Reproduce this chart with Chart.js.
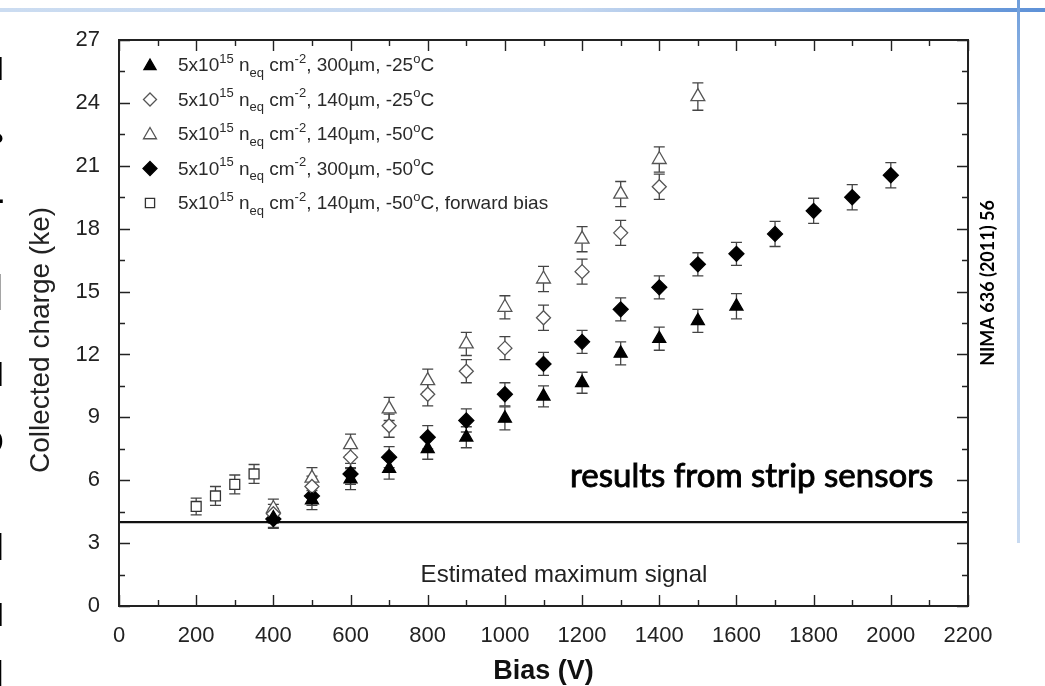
<!DOCTYPE html>
<html>
<head>
<meta charset="utf-8">
<script src="https://cdn.jsdelivr.net/npm/chart.js@4/dist/chart.umd.min.js"></script>
<style>
html,body{margin:0;padding:0;background:#fff;}
#wrap{position:relative;width:1045px;height:686px;overflow:hidden;background:#fff;}
#wrap canvas{position:absolute;left:0;top:0;}
.hline{position:absolute;left:0;top:8px;width:1045px;height:4px;background:linear-gradient(to right,#cbdcf1 0%,#c3d6ef 55%,#5d91d7 100%);}
.vline{position:absolute;left:1017px;top:0;width:3px;height:543px;background:linear-gradient(to bottom,#6f9edb 0%,#a9c5ea 25%,#c8daf1 100%);}
</style>
</head>
<body>
<div id="wrap">
  <canvas id="c" width="1045" height="686"></canvas>
  <div class="hline"></div>
  <div class="vline"></div>
</div>
<script>
// ---------------- data ----------------
const biasTri300   = [400, 500, 600, 700, 800, 900, 1000, 1100, 1200, 1300, 1400, 1500, 1600];
const chargeTri300 = [4.2, 5.05, 6.05, 6.55, 7.5, 8.05, 8.95, 10.0, 10.65, 12.05, 12.75, 13.6, 14.3];
const errTri300    = [0.45, 0.45, 0.5, 0.5, 0.5, 0.5, 0.55, 0.5, 0.5, 0.55, 0.55, 0.55, 0.6];

const biasDia140   = [400, 500, 600, 700, 800, 900, 1000, 1100, 1200, 1300, 1400];
const chargeDia140 = [4.4, 5.7, 7.1, 8.6, 10.1, 11.2, 12.3, 13.75, 15.95, 17.8, 20.0];
const errDia140    = [0.45, 0.5, 0.5, 0.55, 0.55, 0.55, 0.55, 0.6, 0.6, 0.6, 0.6];

const biasTri140   = [400, 500, 600, 700, 800, 900, 1000, 1100, 1200, 1300, 1400, 1500];
const chargeTri140 = [4.65, 6.1, 7.7, 9.4, 10.75, 12.5, 14.25, 15.6, 17.5, 19.65, 21.3, 24.3];
const errTri140    = [0.45, 0.5, 0.5, 0.55, 0.55, 0.55, 0.55, 0.6, 0.6, 0.6, 0.6, 0.65];

const biasDia300   = [400, 500, 600, 700, 800, 900, 1000, 1100, 1200, 1300, 1400, 1500, 1600, 1700, 1800, 1900, 2000];
const chargeDia300 = [4.15, 5.25, 6.3, 7.1, 8.05, 8.85, 10.1, 11.55, 12.6, 14.15, 15.2, 16.3, 16.8, 17.75, 18.85, 19.5, 20.55];
const errDia300    = [0.45, 0.45, 0.5, 0.5, 0.55, 0.55, 0.55, 0.55, 0.55, 0.55, 0.55, 0.55, 0.55, 0.6, 0.6, 0.6, 0.6];

const biasSqFwd    = [200, 250, 300, 350];
const chargeSqFwd  = [4.75, 5.25, 5.8, 6.3];
const errSqFwd     = [0.4, 0.45, 0.45, 0.45];

const maxSignalLevel = 4;
const maxSignalSpan  = [0, 2200];

const xRange = [0, 2200], xStep = 200, xMinorStep = 100;
const yRange = [0, 27],  yStep = 3,   yMinorStep = 1.5;

const legendThickness = ['300\u00B5m', '140\u00B5m', '140\u00B5m', '300\u00B5m', '140\u00B5m'];
const legendTemp      = ['-25', '-25', '-50', '-50', '-50'];
const legendSuffix    = ['', '', '', '', ', forward bias'];

const xTitle = 'Bias (V)';
const yTitle = 'Collected charge (ke)';
const signalNote = 'Estimated maximum signal';
const stripNote = 'results from strip sensors';
const refNote = 'NIMA 636 (2011) 56';

// ---------------- series definitions ----------------
const series = [
  {bias: biasTri300, charge: chargeTri300, err: errTri300, style: 'triangle', r: 7.5, fill: '#000', stroke: '#000'},
  {bias: biasDia140, charge: chargeDia140, err: errDia140, style: 'rectRot',  r: 7,   fill: '#fff', stroke: '#555'},
  {bias: biasTri140, charge: chargeTri140, err: errTri140, style: 'triangle', r: 8,   fill: '#fff', stroke: '#555'},
  {bias: biasDia300, charge: chargeDia300, err: errDia300, style: 'rectRot',  r: 7.5, fill: '#000', stroke: '#000'},
  {bias: biasSqFwd,  charge: chargeSqFwd,  err: errSqFwd,  style: 'rect',     r: 7,   fill: '#fff', stroke: '#333'}
];

function markerPath(ctx, style, x, y, r) {
  ctx.beginPath();
  if (style === 'triangle') {
    ctx.moveTo(x, y - r);
    ctx.lineTo(x + 0.866 * r, y + 0.5 * r);
    ctx.lineTo(x - 0.866 * r, y + 0.5 * r);
  } else if (style === 'rectRot') {
    ctx.moveTo(x, y - r); ctx.lineTo(x + r, y); ctx.lineTo(x, y + r); ctx.lineTo(x - r, y);
  } else {
    const h = r * Math.SQRT1_2;
    ctx.rect(x - h, y - h, 2 * h, 2 * h);
  }
  ctx.closePath();
}

const FONT = '"Liberation Sans", Arial, sans-serif';

function drawRich(ctx, x, y, parts) {
  let cx = x;
  parts.forEach(p => {
    const [t, kind] = p;
    if (kind === 'sup') { ctx.font = '13px ' + FONT; ctx.fillText(t, cx, y - 7); }
    else if (kind === 'sub') { ctx.font = '13px ' + FONT; ctx.fillText(t, cx, y + 7); }
    else { ctx.font = '19px ' + FONT; ctx.fillText(t, cx, y); }
    cx += ctx.measureText(t).width;
  });
}

const decor = {
  id: 'decor',
  beforeDatasetsDraw(chart) {
    const ctx = chart.ctx, xs = chart.scales.x, ys = chart.scales.y;
    ctx.save();
    ctx.strokeStyle = '#444';
    ctx.lineWidth = 1.3;
    series.forEach(s => {
      s.bias.forEach((b, i) => {
        const px = xs.getPixelForValue(b);
        const yTop = ys.getPixelForValue(s.charge[i] + s.err[i]);
        const yBot = ys.getPixelForValue(s.charge[i] - s.err[i]);
        ctx.beginPath();
        ctx.moveTo(px, yTop); ctx.lineTo(px, yBot);
        ctx.moveTo(px - 5.5, yTop); ctx.lineTo(px + 5.5, yTop);
        ctx.moveTo(px - 5.5, yBot); ctx.lineTo(px + 5.5, yBot);
        ctx.stroke();
      });
    });
    ctx.restore();
  },
  afterDraw(chart) {
    const ctx = chart.ctx, xs = chart.scales.x, ys = chart.scales.y;
    const a = chart.chartArea;
    ctx.save();
    // frame
    ctx.strokeStyle = '#222';
    ctx.lineWidth = 2;
    ctx.strokeRect(a.left, a.top, a.right - a.left, a.bottom - a.top);
    // inward ticks
    ctx.lineWidth = 1.4;
    ctx.beginPath();
    const nx = Math.round((xRange[1] - xRange[0]) / xMinorStep);
    for (let k = 0; k <= nx; k++) {
      const v = xRange[0] + k * xMinorStep;
      const px = Math.round(xs.getPixelForValue(v)) + 0.5;
      const len = (k % 2 === 0) ? 11 : 6;
      ctx.moveTo(px, a.bottom); ctx.lineTo(px, a.bottom - len);
      ctx.moveTo(px, a.top); ctx.lineTo(px, a.top + len);
    }
    const ny = Math.round((yRange[1] - yRange[0]) / yMinorStep);
    for (let k = 0; k <= ny; k++) {
      const v = yRange[0] + k * yMinorStep;
      const py = Math.round(ys.getPixelForValue(v)) + 0.5;
      const len = (k % 2 === 0) ? 11 : 6;
      ctx.moveTo(a.left, py); ctx.lineTo(a.left + len, py);
      ctx.moveTo(a.right, py); ctx.lineTo(a.right - len, py);
    }
    ctx.stroke();

    // y axis title
    ctx.save();
    ctx.translate(41, 340);
    ctx.rotate(-Math.PI / 2);
    ctx.fillStyle = '#222';
    ctx.font = '28px ' + FONT;
    ctx.textAlign = 'center';
    ctx.textBaseline = 'middle';
    ctx.fillText(yTitle, 0, 0);
    ctx.restore();

    // legend
    ctx.textBaseline = 'middle';
    ctx.textAlign = 'left';
    series.forEach((s, i) => {
      const ly = 65 + i * 34.5;
      ctx.fillStyle = s.fill; ctx.strokeStyle = s.stroke; ctx.lineWidth = 1.3;
      markerPath(ctx, s.style, 150, ly + (s.style === 'triangle' ? 1 : 0), s.r - 0.5);
      ctx.fill(); ctx.stroke();
      ctx.fillStyle = '#2a2a2a';
      drawRich(ctx, 178, ly + 1, [
        ['5x10', 'n'], ['15', 'sup'], [' n', 'n'], ['eq', 'sub'], [' cm', 'n'], ['-2', 'sup'],
        [', ' + legendThickness[i] + ', ' + legendTemp[i], 'n'], ['o', 'sup'], ['C' + legendSuffix[i], 'n']
      ]);
    });

    // annotations
    ctx.textBaseline = 'alphabetic';
    ctx.fillStyle = '#222';
    ctx.font = '24px ' + FONT;
    ctx.textAlign = 'center';
    ctx.fillText(signalNote, 564, 582);

    ctx.fillStyle = '#000';
    ctx.strokeStyle = '#000';
    ctx.lineWidth = 0.9;
    ctx.font = '33px Lato, sans-serif';
    ctx.textAlign = 'left';
    ctx.fillText(stripNote, 570, 487);
    ctx.strokeText(stripNote, 570, 487);

    ctx.save();
    ctx.translate(988, 283);
    ctx.rotate(-Math.PI / 2);
    ctx.font = 'bold 18px Lato, sans-serif';
    ctx.textAlign = 'center';
    ctx.textBaseline = 'middle';
    ctx.fillText(refNote, 0, 0);
    ctx.restore();

    // cut-off slide text at the left edge
    ctx.fillStyle = '#000';
    ctx.textAlign = 'right';
    ctx.textBaseline = 'alphabetic';
    const frags = [['l', 32, 80], ['?', 28, 152], ['-', 30, 209], ['l', 50, 310], ['l', 34, 386], ['o', 42, 453], ['l', 37, 560], ['l', 32, 626], ['l', 40, 690]];
    frags.forEach(f => {
      ctx.font = 'bold ' + f[1] + 'px ' + FONT;
      ctx.fillText(f[0], 4, f[2]);
    });
    ctx.restore();
  }
};

const datasets = series.map((s, i) => ({
  label: 'series' + i,
  data: s.bias.map((b, j) => ({x: b, y: s.charge[j]})),
  pointStyle: s.style,
  pointRadius: s.r,
  pointHoverRadius: s.r,
  pointBackgroundColor: s.fill,
  pointBorderColor: s.stroke,
  pointBorderWidth: 1.3,
  showLine: false,
  order: i
}));
datasets.push({
  label: 'maxSignal',
  data: maxSignalSpan.map(b => ({x: b, y: maxSignalLevel})),
  showLine: true,
  borderColor: '#111',
  borderWidth: 2.2,
  pointRadius: 0,
  order: 10
});

new Chart(document.getElementById('c'), {
  type: 'scatter',
  data: {datasets},
  plugins: [decor],
  options: {
    responsive: false,
    animation: false,
    events: [],
    layout: {padding: {left: 0, right: 77, top: 40, bottom: 0}},
    plugins: {legend: {display: false}, tooltip: {enabled: false}},
    scales: {
      x: {
        type: 'linear', min: xRange[0], max: xRange[1],
        afterFit: s => { s.height = 80; },
        grid: {display: false, drawTicks: false},
        border: {display: false},
        ticks: {stepSize: xStep, maxRotation: 0, autoSkip: false, padding: 17, color: '#222', font: {family: FONT, size: 22},
                callback: v => String(v)},
        title: {display: true, text: xTitle, color: '#111', padding: {top: 0, bottom: -2}, font: {family: FONT, size: 27, weight: 'bold'}}
      },
      y: {
        type: 'linear', min: yRange[0], max: yRange[1],
        afterFit: s => { s.width = 119; },
        grid: {display: false, drawTicks: false},
        border: {display: false},
        ticks: {stepSize: yStep, padding: 19, color: '#222', font: {family: FONT, size: 22}},
        title: {display: false}
      }
    }
  }
});
</script>
</body>
</html>
